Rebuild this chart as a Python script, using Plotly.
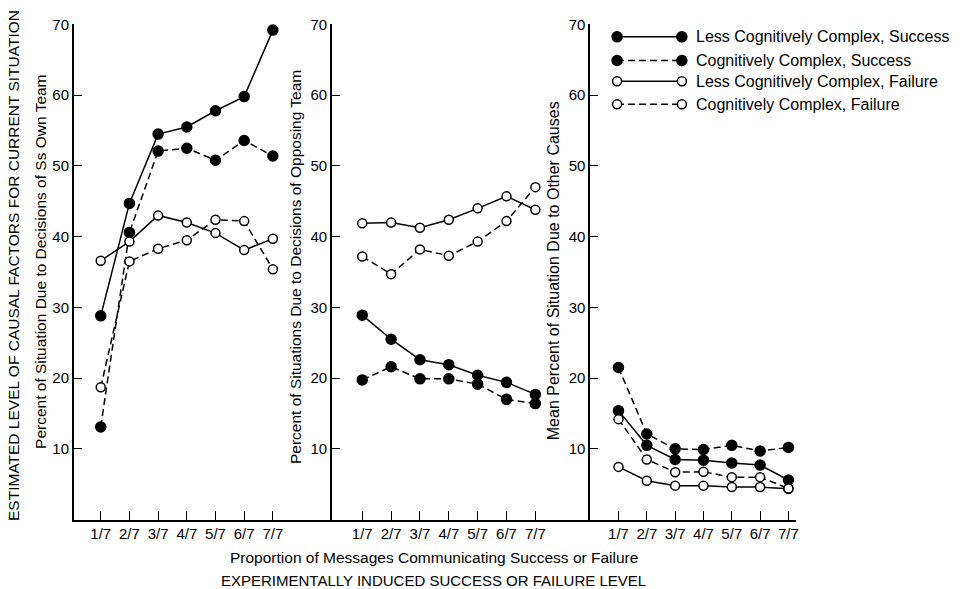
import plotly.graph_objects as go

W, H = 965, 589

x_labels = ["1/7", "2/7", "3/7", "4/7", "5/7", "6/7", "7/7"]
x_vals = [1, 2, 3, 4, 5, 6, 7]
y_ticks = [10, 20, 30, 40, 50, 60, 70]

series_names = [
    "Less Cognitively Complex, Success",
    "Cognitively Complex, Success",
    "Less Cognitively Complex, Failure",
    "Cognitively Complex, Failure",
]

# Panel 1: own team
own_lcc_success = [28.8, 44.7, 54.5, 55.5, 57.8, 59.8, 69.2]
own_cc_success = [13.1, 40.6, 52.1, 52.5, 50.8, 53.6, 51.4]
own_lcc_failure = [36.6, 39.3, 43.0, 42.0, 40.5, 38.1, 39.7]
own_cc_failure = [18.7, 36.5, 38.3, 39.5, 42.4, 42.2, 35.4]

# Panel 2: opposing team
opp_lcc_success = [28.9, 25.5, 22.6, 21.9, 20.4, 19.4, 17.7]
opp_cc_success = [19.75, 21.6, 19.9, 19.9, 19.15, 17.0, 16.4]
opp_lcc_failure = [41.9, 42.0, 41.25, 42.4, 44.0, 45.7, 43.8]
opp_cc_failure = [37.2, 34.7, 38.2, 37.3, 39.3, 42.2, 47.0]

# Panel 3: other causes
oth_lcc_success = [15.4, 10.5, 8.5, 8.4, 8.0, 7.7, 5.6]
oth_cc_success = [21.5, 12.1, 10.0, 9.9, 10.5, 9.7, 10.2]
oth_lcc_failure = [7.45, 5.5, 4.8, 4.8, 4.6, 4.6, 4.35]
oth_cc_failure = [14.2, 8.5, 6.7, 6.75, 6.0, 6.0, 4.4]

panels = [
    [own_lcc_success, own_cc_success, own_lcc_failure, own_cc_failure],
    [opp_lcc_success, opp_cc_success, opp_lcc_failure, opp_cc_failure],
    [oth_lcc_success, oth_cc_success, oth_lcc_failure, oth_cc_failure],
]

FONT = "Liberation Sans, Arial, Helvetica, sans-serif"
DASH = "7px,4px"
styles = [
    dict(filled=True, dash="solid"),
    dict(filled=True, dash=DASH),
    dict(filled=False, dash="solid"),
    dict(filled=False, dash=DASH),
]

fig = go.Figure()

axis_ids = ["", "2", "3"]
for p, data in enumerate(panels):
    for s, vals in enumerate(data):
        st = styles[s]
        fig.add_trace(go.Scatter(
            x=x_vals, y=vals, mode="lines+markers",
            name=series_names[s], showlegend=False,
            xaxis="x" + axis_ids[p], yaxis="y" + axis_ids[p],
            line=dict(color="black", width=1.5, dash=st["dash"]),
            marker=dict(size=10 if st["filled"] else 9,
                        color="black" if st["filled"] else "white",
                        line=dict(color="black", width=1.5)),
            cliponaxis=False,
        ))

def px_x(v):
    return v / W

def px_y(v):
    return 1 - v / H

y_dom = [px_y(518.5), px_y(15.7)]
x_domains = [[px_x(74), px_x(333)], [px_x(333), px_x(592)], [px_x(592), px_x(798)]]
x_ranges = [[0.06, 9.06], [-0.05, 8.9], [0.0, 7.25]]

tickfont = dict(family=FONT, size=15, color="black")
for p in range(3):
    xk = "xaxis" + axis_ids[p]
    yk = "yaxis" + axis_ids[p]
    fig.layout[xk] = dict(
        domain=x_domains[p], range=x_ranges[p], anchor="y" + axis_ids[p],
        tickvals=x_vals, ticktext=x_labels, ticks="inside", ticklen=9,
        tickwidth=1.2, tickcolor="black", showline=True, linecolor="black",
        linewidth=1.5, showgrid=False, zeroline=False, tickfont=tickfont,
        fixedrange=True,
    )
    fig.layout[yk] = dict(
        domain=y_dom, range=[0, 70], anchor="x" + axis_ids[p],
        tickvals=y_ticks, ticks="inside", ticklen=8, tickwidth=1.2,
        tickcolor="black", showline=True, linecolor="black", linewidth=1.5,
        showgrid=False, zeroline=False, tickfont=tickfont, fixedrange=True,
    )

annotations = []
def rot_text(text, xpx, ypx, size=15):
    annotations.append(dict(
        text=text, xref="paper", yref="paper", x=px_x(xpx), y=px_y(ypx),
        xanchor="center", yanchor="middle", textangle=-90, showarrow=False,
        font=dict(family=FONT, size=size, color="black"),
    ))

rot_text("ESTIMATED LEVEL OF CAUSAL FACTORS FOR CURRENT SITUATION", 13, 260, 15.5)
rot_text("Percent of Situation Due to Decisions of Ss Own Team", 40, 257, 15.5)
rot_text("Percent of Situations Due to Decisions of Opposing Team", 297, 262, 15.5)
rot_text("Mean Percent of Situation Due to Other Causes", 556, 266, 16)

for text, ypx, size in [
    ("Proportion of Messages Communicating Success or Failure", 557, 15.5),
    ("EXPERIMENTALLY INDUCED SUCCESS OR FAILURE LEVEL", 580, 15),
]:
    annotations.append(dict(
        text=text, xref="paper", yref="paper", x=px_x(435), y=px_y(ypx),
        xanchor="center", yanchor="middle", showarrow=False,
        font=dict(family=FONT, size=size, color="black"),
    ))

# Manual legend (decoration)
shapes = []
leg_rows = [28.3, 52.3, 73.3, 96.7]
lx0, lx1, ltext = 619, 684, 696
for i, name in enumerate(series_names):
    st = styles[i]
    yy = px_y(leg_rows[i])
    shapes.append(dict(
        type="line", xref="paper", yref="paper", x0=px_x(lx0), x1=px_x(lx1),
        y0=yy, y1=yy, line=dict(color="black", width=1.5, dash=st["dash"]),
    ))
    for cx in (lx0, lx1):
        r = 5 if st["filled"] else 4.5
        shapes.append(dict(
            type="circle", xref="paper", yref="paper",
            xsizemode="pixel", ysizemode="pixel",
            xanchor=px_x(cx), yanchor=yy, x0=-r, x1=r, y0=-r, y1=r,
            fillcolor="black" if st["filled"] else "white",
            line=dict(color="black", width=1.5),
        ))
    annotations.append(dict(
        text=name, xref="paper", yref="paper", x=px_x(ltext), y=yy,
        xanchor="left", yanchor="middle", showarrow=False,
        font=dict(family=FONT, size=16, color="black"),
    ))

fig.update_layout(
    width=W, height=H, margin=dict(l=0, r=0, t=0, b=0),
    paper_bgcolor="white", plot_bgcolor="white",
    annotations=annotations, shapes=shapes, showlegend=False,
    font=dict(family=FONT, color="black"),
)

fig.write_html("out.html", config={"displayModeBar": False})
